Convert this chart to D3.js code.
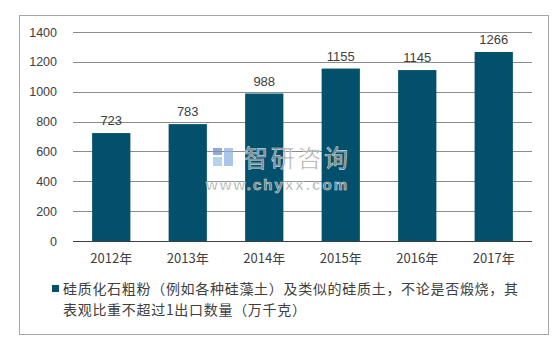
<!DOCTYPE html>
<html>
<head>
<meta charset="utf-8">
<script src="https://cdn.jsdelivr.net/npm/d3@7"></script>
<style>
	body { margin: 0; background: #fff; }
	text { font-family: "Liberation Sans", Arial, sans-serif; fill: #404040; }
	.cjk { font-family: "Noto Sans CJK SC", sans-serif; }
</style>
</head>
<body>
<svg id="svg"></svg>
<script>
const years = ['2012年', '2013年', '2014年', '2015年', '2016年', '2017年']
const values = [723, 783, 988, 1155, 1145, 1266]
const yTicks = [0, 200, 400, 600, 800, 1000, 1200, 1400]
const legendLines = [
	'硅质化石粗粉（例如各种硅藻土）及类似的硅质土，不论是否煅烧，其',
	'表观比重不超过1出口数量（万千克）'
]

const W = 559, H = 342
const margin = {top: 32, right: 27, bottom: 101, left: 73}
const width = W - margin.left - margin.right,
	height = H - margin.top - margin.bottom

const svg = d3.select('#svg')
	.attr('width', W)
	.attr('height', H)

// outer frame
svg.append('rect')
	.attr('x', 19.5).attr('y', 15.5)
	.attr('width', 529).attr('height', 319)
	.attr('fill', 'none')
	.attr('stroke', '#a6a6a6')

const g = svg.append('g')
	.attr('transform', `translate(${margin.left},${margin.top})`)

const x = d3.scaleBand().domain(years).range([0, width])
	.paddingInner(0.5).paddingOuter(0.25)
const y = d3.scaleLinear().domain([0, 1400]).range([height, 0])

// gridlines
g.append('g')
	.selectAll('line')
	.data(yTicks.filter(d => d > 0))
	.enter().append('line')
	.attr('x1', 0).attr('x2', width)
	.attr('y1', d => Math.round(y(d)) + 0.5)
	.attr('y2', d => Math.round(y(d)) + 0.5)
	.attr('stroke', '#8c8c8c')

// y labels
g.append('g')
	.selectAll('text')
	.data(yTicks)
	.enter().append('text')
	.attr('x', -16)
	.attr('y', d => y(d))
	.attr('dy', '0.36em')
	.attr('text-anchor', 'end')
	.style('font-size', '12.5px')
	.text(d => d)

// bars
g.append('g')
	.selectAll('rect')
	.data(values)
	.enter().append('rect')
	.attr('x', (d, i) => x(years[i]))
	.attr('y', d => y(d))
	.attr('width', x.bandwidth())
	.attr('height', d => height - y(d))
	.attr('fill', '#02506b')

// baseline
g.append('line')
	.attr('x1', 0).attr('x2', width)
	.attr('y1', height + 0.5).attr('y2', height + 0.5)
	.attr('stroke', '#404040')

// value labels
g.append('g')
	.selectAll('text')
	.data(values)
	.enter().append('text')
	.attr('x', (d, i) => x(years[i]) + x.bandwidth() / 2)
	.attr('y', d => y(d) - 8)
	.attr('text-anchor', 'middle')
	.style('font-size', '13px')
	.text(d => d)

// x labels
const xAxis = g.append('g')
	.attr('transform', `translate(0,${height})`)
	.call(d3.axisBottom(x).tickSize(0).tickPadding(13))
xAxis.select('.domain').remove()
xAxis.selectAll('text')
	.attr('class', 'cjk')
	.style('font-size', '13px')
	.style('fill', '#404040')

// watermark
const wm = svg.append('g').attr('opacity', 0.75)
wm.append('rect').attr('x', 213).attr('y', 148).attr('width', 9).attr('height', 7).attr('fill', '#6f8fc4')
wm.append('rect').attr('x', 213).attr('y', 157).attr('width', 9).attr('height', 9).attr('fill', '#9ec4e8')
wm.append('rect').attr('x', 224).attr('y', 148).attr('width', 9).attr('height', 18).attr('fill', '#8fb3df')
wm.append('text')
	.attr('class', 'cjk')
	.attr('x', 244).attr('y', 167)
	.attr('textLength', 104)
	.style('font-size', '24px')
	.style('fill', '#8a8a8a')
	.style('stroke', '#fff').style('stroke-width', 0.6)
	.text('智研咨询')
wm.append('text')
	.attr('x', 206).attr('y', 190)
	.attr('textLength', 141)
	.style('font-size', '15px')
	.style('font-weight', 'bold')
	.style('fill', '#8a8a8a')
	.style('stroke', '#fff').style('stroke-width', 0.6)
	.text('www.chyxx.com')

// legend
svg.append('rect')
	.attr('x', 52).attr('y', 285)
	.attr('width', 7).attr('height', 7)
	.attr('fill', '#02506b')
svg.append('g')
	.selectAll('text')
	.data(legendLines)
	.enter().append('text')
	.attr('class', 'cjk')
	.attr('x', 63)
	.attr('y', (d, i) => 294 + i * 21)
	.style('font-size', '14px')
	.style('letter-spacing', '0.7px')
	.text(d => d)
</script>
</body>
</html>
